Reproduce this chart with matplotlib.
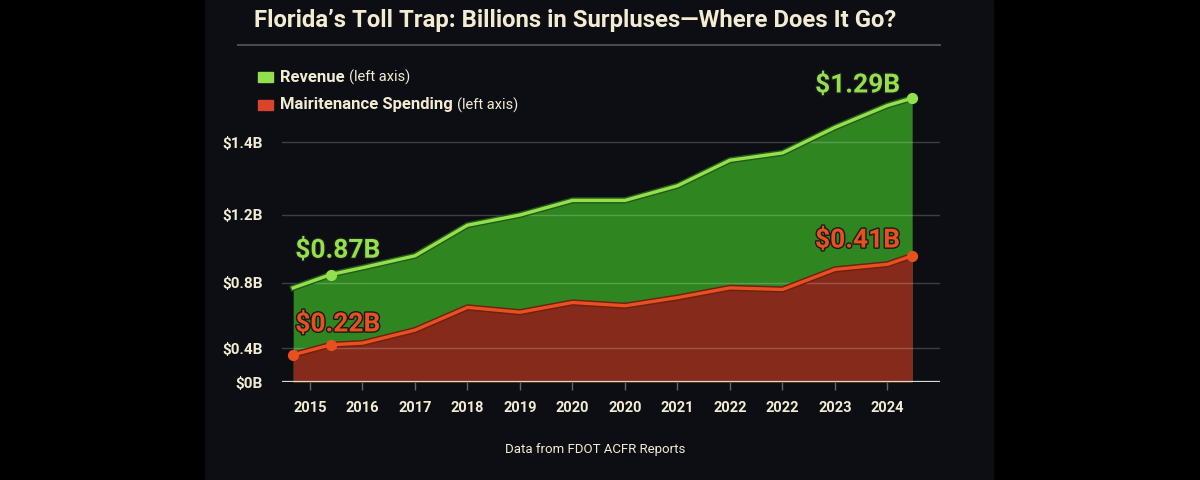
import matplotlib
matplotlib.use("Agg")
import matplotlib.pyplot as plt
import matplotlib.patheffects as pe
from matplotlib.patches import Rectangle
from matplotlib.lines import Line2D
import numpy as np

plt.rcParams['font.family'] = ['Liberation Sans Narrow', 'Roboto', 'DejaVu Sans']

# data (billions)
x_pos = [-0.32, 0.4, 1, 2, 3, 4, 5, 6, 7, 8, 9, 10, 11, 11.47]
revenue = [0.77, 0.85, 0.89, 0.96, 1.14, 1.20, 1.24, 1.24, 1.28, 1.35, 1.37, 1.44, 1.50, 1.52]
maintenance = [0.32, 0.42, 0.43, 0.51, 0.65, 0.62, 0.68, 0.66, 0.71, 0.77, 0.76, 0.88, 0.91, 0.96]
year_labels = ["2015", "2016", "2017", "2018", "2019", "2020", "2020",
               "2021", "2022", "2022", "2023", "2024"]
y_ticks = [0, 0.4, 0.8, 1.2, 1.4]
y_tick_labels = ["$0B", "$0.4B", "$0.8B", "$1.2B", "$1.4B"]

# uneven axis spacing as drawn in the original
scale_vals = [0, 0.4, 0.8, 1.2, 1.4, 2.0]
scale_pos = [0, 34, 99, 167, 240, 459]


def fwd(v):
    return np.interp(v, scale_vals, scale_pos)


def inv(p):
    return np.interp(p, scale_pos, scale_vals)


CREAM = "#f3ecd2"
GREEN_FILL = "#2f8621"
GREEN_LINE = "#92e04e"
RED_FILL = "#862a1b"
RED_LINE = "#e8501f"

fig = plt.figure(figsize=(12, 4.8), dpi=100, facecolor="black")
fig.patches.append(Rectangle((205 / 1200, 0), (993 - 205) / 1200, 1,
                             transform=fig.transFigure, color="#0c0e13", zorder=-5))

ax = fig.add_axes([282 / 1200, 1 - 382 / 480, 658 / 1200, 322 / 480])
ax.set_facecolor("none")
ax.set_yscale("function", functions=(fwd, inv))
ax.set_ylim(0, inv(322))
ax.set_xlim(-0.533, 12.0)

ax.fill_between(x_pos, 0, revenue, color=GREEN_FILL, lw=0, zorder=1)
ax.fill_between(x_pos, 0, maintenance, color=RED_FILL, lw=0, zorder=2)

for yv in y_ticks[1:]:
    ax.axhline(yv, color="white", alpha=0.2, lw=1, zorder=3)
ax.axhline(0, color="#d8d8d8", lw=1.6, zorder=5)

ax.plot(x_pos, revenue, color=GREEN_LINE, lw=2.4, zorder=4,
        path_effects=[pe.Stroke(linewidth=4.5, foreground="#275c16"), pe.Normal()])
ax.plot(x_pos, maintenance, color=RED_LINE, lw=2.4, zorder=4,
        path_effects=[pe.Stroke(linewidth=4.5, foreground="#6e2012"), pe.Normal()])

ax.scatter([x_pos[1], x_pos[-1]], [revenue[1], revenue[-1]], s=50,
           color=GREEN_LINE, zorder=6)
ax.scatter([x_pos[0], x_pos[1], x_pos[-1]],
           [maintenance[0], maintenance[1], maintenance[-1]], s=50,
           color=RED_LINE, zorder=6)

outline = [pe.withStroke(linewidth=2, foreground="#1a1a1a")]
ax.text(-0.28, 0.99, "$0.87B", color=GREEN_LINE, fontsize=19, fontweight="bold",
        ha="left", va="center", path_effects=outline, zorder=7)
ax.text(-0.28, 0.545, "$0.22B", color=RED_LINE, fontsize=19, fontweight="bold",
        ha="left", va="center", path_effects=outline, zorder=7)
ax.text(10.43, 1.555, "$1.29B", color=GREEN_LINE, fontsize=19, fontweight="bold",
        ha="center", va="center", path_effects=outline, zorder=7)
ax.text(10.43, 1.05, "$0.41B", color=RED_LINE, fontsize=19, fontweight="bold",
        ha="center", va="center", path_effects=outline, zorder=7)

ax.set_xticks(range(len(year_labels)))
ax.set_xticklabels(year_labels)
ax.set_yticks(y_ticks)
ax.set_yticklabels(y_tick_labels)
ax.yaxis.set_minor_locator(plt.NullLocator())
ax.tick_params(axis="x", colors="#666666", length=6, width=1, pad=8,
               labelcolor=CREAM, labelsize=10.5)
ax.tick_params(axis="y", length=0, pad=14, labelcolor=CREAM, labelsize=11)
for lab in ax.get_xticklabels() + ax.get_yticklabels():
    lab.set_fontweight("bold")
for s in ax.spines.values():
    s.set_visible(False)

renderer = fig.canvas.get_renderer()

# title, sized to the original width
title = fig.text(575 / 1200, 1 - 21 / 480,
                 "Florida\u2019s Toll Trap: Billions in Surpluses\u2014Where Does It Go?",
                 color=CREAM, fontsize=20, fontweight="bold", ha="center", va="center")
w = title.get_window_extent(renderer).width
title.set_fontsize(20 * 640 / w)
fig.add_artist(Line2D([238 / 1200, 940 / 1200], [1 - 45 / 480, 1 - 45 / 480],
                      color="#4a4a4a", lw=1.5, transform=fig.transFigure))

# legend drawn by hand (mixed bold / regular text)
legend_rows = [("Revenue", GREEN_LINE, 77), ("Mairitenance Spending", "#d9452b", 105)]
for name, col, ypix in legend_rows:
    yf = 1 - ypix / 480
    fig.patches.append(Rectangle((258 / 1200, yf - 5 / 480), 15 / 1200, 10 / 480,
                                 transform=fig.transFigure, color=col))
    t = fig.text(280 / 1200, yf, name, color=CREAM, fontsize=12, fontweight="bold",
                 ha="left", va="center")
    bb = t.get_window_extent(renderer)
    fig.text(bb.x1 / 1200 + 4 / 1200, yf, "(left axis)", color=CREAM, fontsize=10.5,
             ha="left", va="center")

fig.text(595 / 1200, 1 - 450 / 480, "Data from FDOT ACFR Reports", color=CREAM,
         fontsize=9.5, ha="center", va="center")

fig.savefig("out.png", dpi=100, facecolor="black")
plt.close()
